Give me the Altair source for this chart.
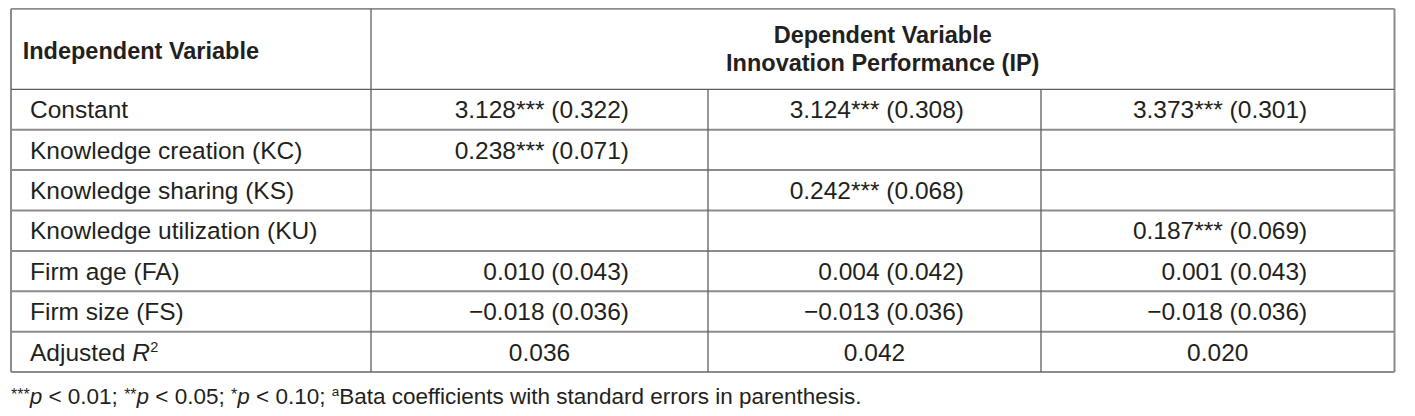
import altair as alt
import pandas as pd

# ---------------- data ----------------
indep_header = "Independent Variable"
dep_header = ["Dependent Variable", "Innovation Performance (IP)"]

row_labels = ["Constant", "Knowledge creation (KC)", "Knowledge sharing (KS)",
              "Knowledge utilization (KU)", "Firm age (FA)", "Firm size (FS)"]

constant_b = [3.128, 3.124, 3.373]
constant_se = [0.322, 0.308, 0.301]
constant_sig = ["***", "***", "***"]

kc_b = [0.238, None, None]
kc_se = [0.071, None, None]
kc_sig = ["***", "", ""]

ks_b = [None, 0.242, None]
ks_se = [None, 0.068, None]
ks_sig = ["", "***", ""]

ku_b = [None, None, 0.187]
ku_se = [None, None, 0.069]
ku_sig = ["", "", "***"]

fa_b = [0.010, 0.004, 0.001]
fa_se = [0.043, 0.042, 0.043]
fa_sig = ["", "", ""]

fs_b = [-0.018, -0.013, -0.018]
fs_se = [0.036, 0.036, 0.036]
fs_sig = ["", "", ""]

r2_label = ["Adjusted ", "R", "2"]
adj_r2 = [0.036, 0.042, 0.020]

footnote_parts = [("***", "sup"), ("p", "ital"), (" < 0.01; ", "norm"),
                  ("**", "sup"), ("p", "ital"), (" < 0.05; ", "norm"),
                  ("*", "sup"), ("p", "ital"), (" < 0.10; ", "norm"),
                  ("a", "supa"),
                  ("Bata coefficients with standard errors in parenthesis.", "norm")]

# ---------------- layout ----------------
W, H = 1399, 400
col_edges = [3, 363, 700, 1033, 1386.5]
y_top = 0.8
header_bottom = 81.3
row_h = 40.4
n_rows = 7
y_bottom = header_bottom + n_rows * row_h

FONT = "Liberation Sans"
TXT = "#231f20"
FS_BODY = 24.5
FS_HEAD = 23.5
FS_NOTE = 22.5
FS_AST = 16.0
FS_SUP = 13.4

HELV = {' ': 278, '*': 389, '<': 584, '.': 278, ';': 278, 'p': 556, 'a': 556,
        'A': 667, 'd': 556, 'j': 222, 'u': 556, 's': 500, 't': 278, 'e': 556,
        'R': 722}
for ch in "0123456789":
    HELV[ch] = 556


def tw(s, fs):
    return sum(HELV.get(c, 556) for c in s) * fs / 1000.0


def fmt(b, se, sig):
    if b is None:
        return ""
    return f"{b:.3f}".replace("-", "\u2212") + sig + f" ({se:.3f})"


def row_center(i):
    return header_bottom + row_h * (i + 0.5)


base_off = 0.358 * FS_BODY

xs = alt.Scale(domain=[0, W], range=[0, W], nice=False, zero=False)
ys = alt.Scale(domain=[0, H], range=[0, H], nice=False, zero=False)

# ---------------- lines ----------------
outer = []
outer.append(dict(x=col_edges[0], x2=col_edges[-1], y=y_top, y2=y_top))
for i in range(1, n_rows + 1):
    yy = header_bottom + i * row_h
    outer.append(dict(x=col_edges[0], x2=col_edges[-1], y=yy, y2=yy))
outer.append(dict(x=col_edges[0], x2=col_edges[0], y=y_top, y2=y_bottom))
outer.append(dict(x=col_edges[-1], x2=col_edges[-1], y=y_top, y2=y_bottom))

inner = []
inner.append(dict(x=col_edges[0], x2=col_edges[-1], y=header_bottom, y2=header_bottom))
inner.append(dict(x=col_edges[1], x2=col_edges[1], y=y_top, y2=y_bottom))
for c in (2, 3):
    inner.append(dict(x=col_edges[c], x2=col_edges[c], y=header_bottom, y2=y_bottom))


def rules(rows, color, width):
    return alt.Chart(pd.DataFrame(rows)).mark_rule(color=color, strokeWidth=width).encode(
        x=alt.X("x:Q", scale=xs, axis=None),
        x2="x2:Q",
        y=alt.Y("y:Q", scale=ys, axis=None),
        y2="y2:Q",
    )


# ---------------- texts ----------------
label_rows = []
for i, lab in enumerate(row_labels):
    label_rows.append(dict(x=col_edges[0] + 19, y=row_center(i) + base_off, text=lab))
label_rows.append(dict(x=col_edges[0] + 19, y=row_center(6) + base_off, text=r2_label[0]))

coef_series = [(constant_b, constant_se, constant_sig), (kc_b, kc_se, kc_sig),
               (ks_b, ks_se, ks_sig), (ku_b, ku_se, ku_sig),
               (fa_b, fa_se, fa_sig), (fs_b, fs_se, fs_sig)]
coef_rows = []
for i, (bs, ses, sigs) in enumerate(coef_series):
    for j in range(3):
        t = fmt(bs[j], ses[j], sigs[j])
        if t:
            cx = (col_edges[j + 1] + col_edges[j + 2]) / 2
            coef_rows.append(dict(x=cx + 89.5, y=row_center(i) + base_off, text=t))

r2_rows = []
for j in range(3):
    cx = (col_edges[j + 1] + col_edges[j + 2]) / 2
    r2_rows.append(dict(x=cx, y=row_center(6) + base_off, text=f"{adj_r2[j]:.3f}"))

rx = col_edges[0] + 19 + tw(r2_label[0], FS_BODY)
r_ital = [dict(x=rx, y=row_center(6) + base_off, text=r2_label[1])]
r_sup = [dict(x=rx + tw("R", FS_BODY) + 0.5, y=row_center(6) + base_off - 8.5, text=r2_label[2])]

head_left = [dict(x=14.7, y=51.3, text=indep_header)]
dep_cx = (col_edges[1] + col_edges[-1]) / 2
head_center = [dict(x=dep_cx, y=35.2, text=dep_header[0]),
               dict(x=dep_cx, y=63.2, text=dep_header[1])]

# footnote layout
note_base = 396.0
cur = col_edges[0]
note = {"norm": [], "ital": [], "sup": [], "supa": []}
for s, kind in footnote_parts:
    fs = {"norm": FS_NOTE, "ital": FS_NOTE, "sup": FS_AST, "supa": FS_SUP}[kind]
    lead = len(s) - len(s.lstrip(" "))
    txt = s.strip(" ")
    dy = {"norm": 0, "ital": 0, "sup": -4.0, "supa": -8.5}[kind]
    note[kind].append(dict(x=cur + tw(" " * lead, fs), y=note_base + dy, text=txt))
    cur += tw(s, fs)


def texts(rows, align="left", size=FS_BODY, weight="normal", style="normal"):
    return alt.Chart(pd.DataFrame(rows)).mark_text(
        align=align, baseline="alphabetic", font=FONT, fontSize=size,
        fontWeight=weight, fontStyle=style, color=TXT,
    ).encode(
        x=alt.X("x:Q", scale=xs, axis=None),
        y=alt.Y("y:Q", scale=ys, axis=None),
        text="text:N",
    )


layers = [
    rules(outer, "#8c8c8c", 2),
    rules(inner, "#5f5f5f", 1.3),
    texts(head_left, "left", FS_HEAD, "bold"),
    texts(head_center, "center", FS_HEAD, "bold"),
    texts(label_rows, "left"),
    texts(coef_rows, "right"),
    texts(r2_rows, "center"),
    texts(r_ital, "left", FS_BODY, "normal", "italic"),
    texts(r_sup, "left", 14.5),
    texts(note["norm"], "left", FS_NOTE),
    texts(note["ital"], "left", FS_NOTE, "normal", "italic"),
    texts(note["sup"], "left", FS_AST),
    texts(note["supa"], "left", FS_SUP),
]

chart = alt.layer(*layers).properties(
    width=W, height=H, padding=0, autosize=alt.AutoSizeParams(type="none"),
    background="white",
).configure_view(strokeWidth=0)

chart.save("out.html", embed_options={"renderer": "svg", "actions": False})
